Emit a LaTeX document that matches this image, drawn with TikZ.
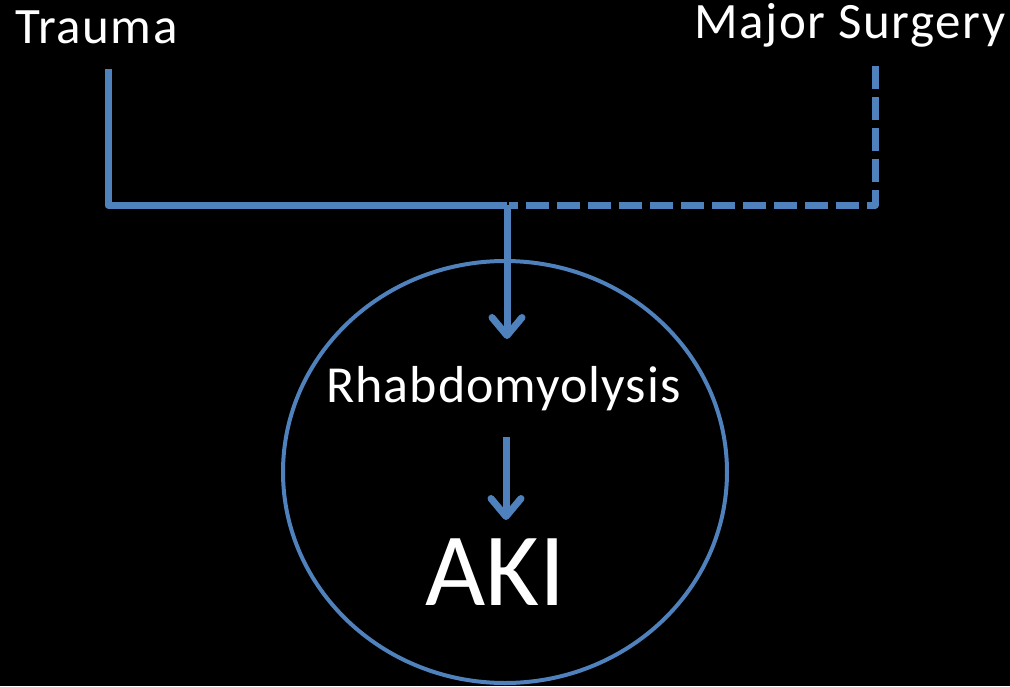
\documentclass[tikz,border=0pt]{standalone}
\usepackage{fontspec}
\setmainfont{Carlito}
\newfontfamily\widecarlito[LetterSpace=3]{Carlito}
\newfontfamily\midcarlito[LetterSpace=2]{Carlito}
\usetikzlibrary{arrows.meta,shapes.geometric}
\definecolor{flowblue}{HTML}{4F81BD}
\tikzset{
  label/.style={text=white, inner sep=0pt, anchor=base},
  link/.style={draw=flowblue, line width=7pt, line join=round},
  dashlink/.style={link, dash pattern=on 23pt off 8pt},
  pointer/.style={link, -{Straight Barb[length=18pt,width=30pt,round]}},
}
\begin{document}
\begin{tikzpicture}[x=1pt, y=-1pt]
  \fill[black] (0,0) rectangle (1010,686);
  \useasboundingbox (0,0) rectangle (1010,686);

  % causes
  \node[label, font=\widecarlito\fontsize{51}{60}\selectfont] (trauma) at (96.5,43) {Trauma};
  \node[label, font=\widecarlito\fontsize{51}{60}\selectfont] (surgery) at (850,38) {Major Surgery};

  % enclosing circle
  \node[draw=flowblue, line width=4pt, ellipse, minimum width=444pt,
        minimum height=422pt, inner sep=0pt] (zone) at (505,472) {};

  % inside the circle
  \node[label, font=\midcarlito\fontsize{52}{60}\selectfont] (rhabdo) at (503.5,402) {Rhabdomyolysis};
  \node[label, font=\fontsize{104}{110}\selectfont] (aki) at (495.5,605) {AKI};

  % anchor points for the connectors
  \coordinate (traumaEnd) at (108,69);
  \coordinate (surgeryEnd) at (875,66);
  \coordinate (join) at (507,205);
  \coordinate (rhabdoTop) at (507,339);
  \coordinate (rhabdoBottom) at (506,437);
  \coordinate (akiTop) at (506,520);

  % connectors
  \draw[link] (traumaEnd) |- (join);
  \draw[dashlink] (surgeryEnd) |- ([xshift=2pt]join);
  \draw[pointer] (join) -- (rhabdoTop);
  \draw[pointer] (rhabdoBottom) -- (akiTop);
\end{tikzpicture}
\end{document}
